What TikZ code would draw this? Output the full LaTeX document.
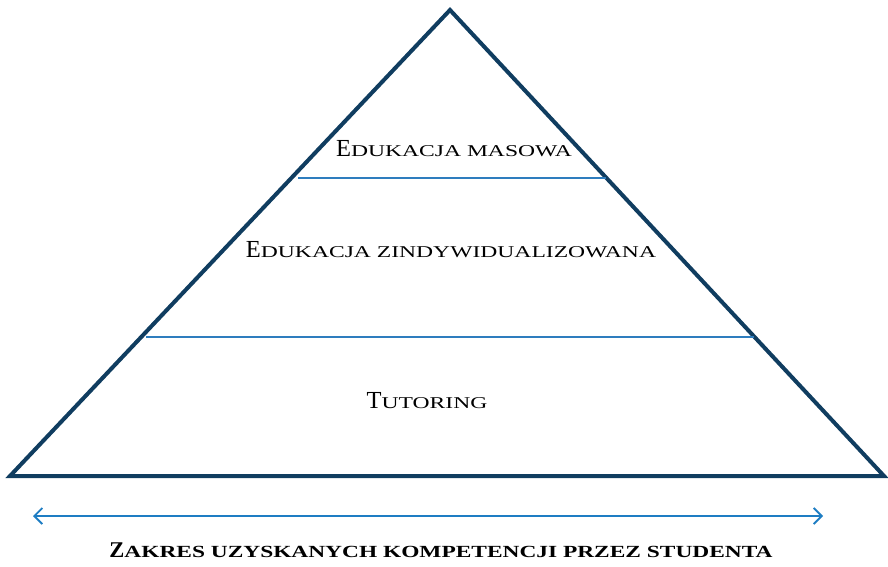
\documentclass[tikz,border=0pt]{standalone}
\usepackage{fontspec}
\setmainfont{Liberation Serif}
\usetikzlibrary{arrows.meta}
\definecolor{navy}{RGB}{16,61,96}
\definecolor{lblue}{RGB}{46,125,190}
\definecolor{ablue}{RGB}{30,125,195}
\newcommand{\fakesc}[5]{{\fontsize{#1}{#1}\selectfont #3}\scalebox{#5}[1]{\fontsize{#2}{#2}\selectfont #4}}
\tikzset{
  tri/.style={draw=navy, line width=4pt, line join=miter},
  divline/.style={draw=lblue, line width=1.6pt},
  lvl/.style={inner sep=0pt, anchor=base, text=black},
  rangearrow/.style={draw=ablue, line width=1.8pt, {Straight Barb[length=8pt,width=16pt]}-{Straight Barb[length=8pt,width=16pt]}}
}
\begin{document}
\begin{tikzpicture}[x=1pt,y=1pt]
\useasboundingbox (0,0) rectangle (888,566);
\coordinate (apex) at (450,556);
\coordinate (bl) at (10,90);
\coordinate (br) at (884,90);
\draw[tri] (apex) -- (bl) -- (br) -- cycle;
\coordinate (l1a) at (298,388);
\coordinate (l1b) at (606,388);
\coordinate (l2a) at (146,229);
\coordinate (l2b) at (754,229);
\draw[divline] (l1a) -- (l1b);
\draw[divline] (l2a) -- (l2b);
\node[lvl] (t1) at (454,409) {\fakesc{24.5}{16.5}{E}{DUKACJA MASOWA}{1.43}};
\node[lvl] (t2) at (451,309) {\fakesc{24.5}{16.5}{E}{DUKACJA ZINDYWIDUALIZOWANA}{1.43}};
\node[lvl] (t3) at (427,158) {\fakesc{24.5}{16.5}{T}{UTORING}{1.43}};
\coordinate (aL) at (33,50);
\coordinate (aR) at (823,50);
\draw[rangearrow] (aL) -- (aR);
\node[lvl, font=\bfseries] (cap) at (441,9) {\fakesc{22.5}{17}{Z}{AKRES UZYSKANYCH KOMPETENCJI PRZEZ STUDENTA}{1.376}};
\end{tikzpicture}
\end{document}
